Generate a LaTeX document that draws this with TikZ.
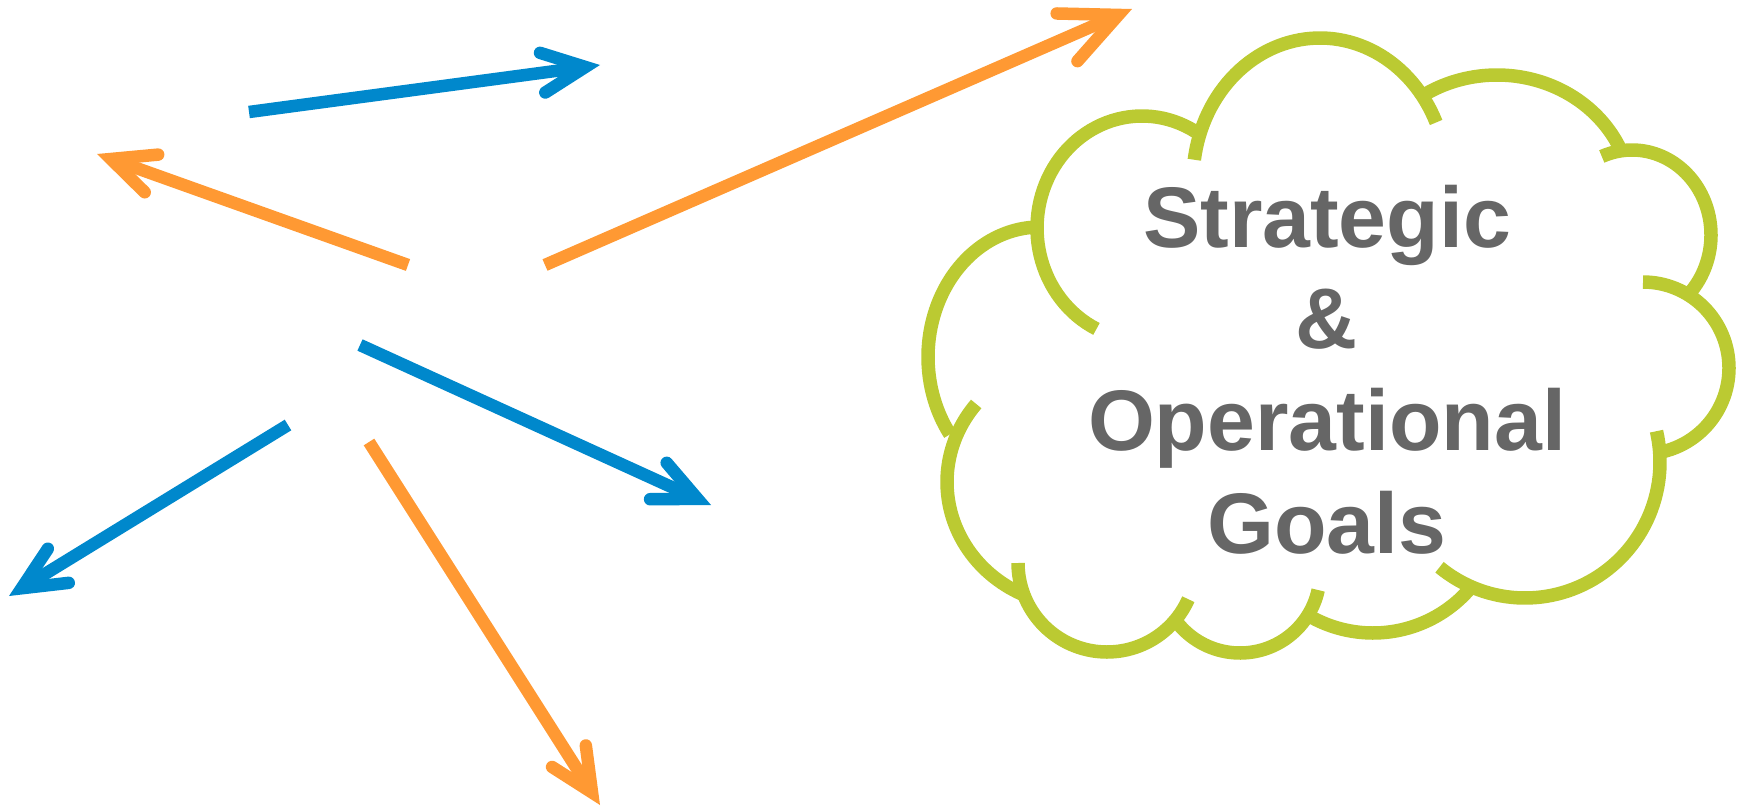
\documentclass[tikz,border=0pt]{standalone}
\usepackage{fontspec}
\setmainfont{Liberation Sans}
\usetikzlibrary{arrows.meta}
\definecolor{arrblue}{HTML}{0088CC}
\definecolor{arrorange}{HTML}{FF9933}
\definecolor{cloudgreen}{HTML}{BBCA32}
\definecolor{textgray}{HTML}{666666}
\begin{document}
\begin{tikzpicture}[x=1pt,y=-1pt,
  arrowline/.style={line width=12.5pt, line cap=butt,
    -{Straight Barb[length=43pt,width=40pt,line cap=round,line join=miter]}},
  bigarrowline/.style={line width=12.5pt, line cap=butt,
    -{Straight Barb[length=56pt,width=52pt,line cap=round,line join=miter]}},
  bluearrow/.style={arrowline, draw=arrblue},
  orangearrow/.style={arrowline, draw=arrorange},
  bigorangearrow/.style={bigarrowline, draw=arrorange},
  lobe/.style={draw=cloudgreen, line width=13.5pt, line cap=butt, line join=round},
  goaltext/.style={text=textgray, font=\fontsize{86}{100}\selectfont\bfseries, anchor=base, inner sep=0pt}
]
\useasboundingbox (0,0) rectangle (1742,806);
% arrow end points
\coordinate (b1s) at (249,112);  \coordinate (b1e) at (600,65);
\coordinate (o1s) at (408,265);  \coordinate (o1e) at (97,154);
\coordinate (o2s) at (545,265);  \coordinate (o2e) at (1132,9);
\coordinate (b2s) at (360,345);  \coordinate (b2e) at (711,505);
\coordinate (b3s) at (288,425);  \coordinate (b3e) at (9,596);
\coordinate (o3s) at (369,442);  \coordinate (o3e) at (600,805);
\draw[bluearrow] (b1s) -- (b1e);
\draw[orangearrow] (o1s) -- (o1e);
\draw[bigorangearrow] (o2s) -- (o2e);
\draw[bluearrow] (b2s) -- (b2e);
\draw[bluearrow] (b3s) -- (b3e);
\draw[orangearrow] (o3s) -- (o3e);
% cloud lobes
\draw[lobe] plot[domain=115.7:300.4, samples=60] ({1142+105*cos(\x)},{228+112*sin(\x)});
\draw[lobe] plot[domain=188.2:336.1, samples=60] ({1320+127*cos(\x)},{180+142*sin(\x)});
\draw[lobe] plot[domain=-121.9:-23.7, samples=60] ({1497+135*cos(\x)},{200+125*sin(\x)});
\draw[lobe] plot[domain=-112.5:42.4, samples=60] ({1632+79*cos(\x)},{235+85*sin(\x)});
\draw[lobe] plot[domain=-90:76, samples=60] ({1643+86*cos(\x)},{368+86*sin(\x)});
\draw[lobe] plot[domain=-13.1:129.3, samples=60] ({1525+135*cos(\x)},{462+136*sin(\x)});
\draw[lobe] plot[domain=40.2:118.2, samples=40] ({1373+128*cos(\x)},{505+128*sin(\x)});
\draw[lobe] plot[domain=12.3:143, samples=50] ({1240+80*cos(\x)},{573+80*sin(\x)});
\draw[lobe] plot[domain=24:180, samples=60] ({1107+89*cos(\x)},{563+89*sin(\x)});
\draw[lobe] plot[domain=115:219, samples=50] ({1078+131*cos(\x)},{482+124*sin(\x)});
\draw[lobe] plot[domain=143.5:266.4, samples=50] ({1040+112*cos(\x)},{357+130*sin(\x)});
% text
\node[goaltext] (t1) at (1327,247) {Strategic};
\node[goaltext] (t2) at (1327,348) {\&};
\node[goaltext] (t3) at (1327,450) {Operational};
\node[goaltext] (t4) at (1327,553) {Goals};
\end{tikzpicture}
\end{document}
